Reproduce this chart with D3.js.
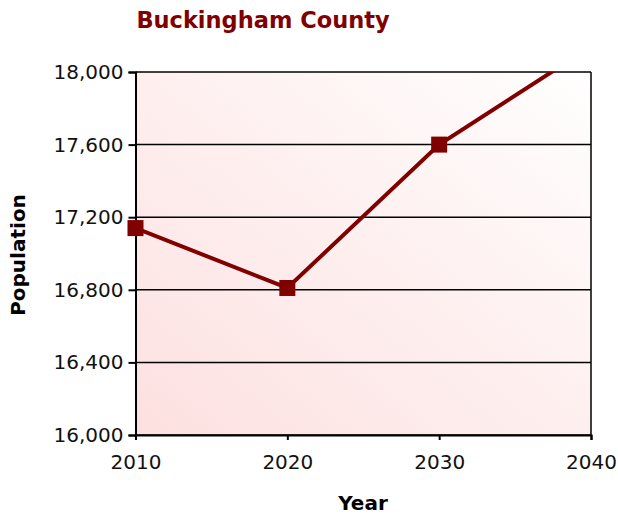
<!DOCTYPE html>
<html>
<head>
<meta charset="utf-8">
<script src="https://cdn.jsdelivr.net/npm/d3@7"></script>
<style>
  body { margin: 0; background: #fff; }
  svg { display: block; font-family: "DejaVu Sans", Verdana, sans-serif; }
</style>
</head>
<body>
<svg id="chart" width="618" height="517"></svg>
<script>
// data
const years = [2010, 2020, 2030, 2040];
const population = [17140, 16810, 17600, 18140];
const yTicks = [16000, 16400, 16800, 17200, 17600, 18000];
const xTicks = [2010, 2020, 2030, 2040];

const svg = d3.select('#chart');
const plotL = 135.5, plotR = 591, plotT = 72, plotB = 435;

const x = d3.scaleLinear().domain([2010, 2040]).range([plotL, plotR]);
const y = d3.scaleLinear().domain([16000, 18000]).range([plotB, plotT]);

// background gradient, pink bottom-left to white top-right
const defs = svg.append('defs');
const grad = defs.append('linearGradient')
    .attr('id', 'bg')
    .attr('x1', '0%').attr('y1', '100%')
    .attr('x2', '100%').attr('y2', '0%');
grad.append('stop').attr('offset', '0%').attr('stop-color', '#fde0e0');
grad.append('stop').attr('offset', '100%').attr('stop-color', '#fffefe');

defs.append('clipPath').attr('id', 'plotclip')
    .append('rect')
    .attr('x', plotL).attr('y', plotT)
    .attr('width', plotR - plotL).attr('height', plotB - plotT);

svg.append('rect')
    .attr('x', plotL).attr('y', plotT)
    .attr('width', plotR - plotL).attr('height', plotB - plotT)
    .attr('fill', 'url(#bg)');

// horizontal gridlines
svg.append('g')
    .selectAll('line')
    .data(yTicks)
    .join('line')
    .attr('x1', plotL).attr('x2', plotR)
    .attr('y1', d => y(d)).attr('y2', d => y(d))
    .attr('stroke', '#000')
    .attr('stroke-width', 1.5);

// right border
svg.append('line')
    .attr('x1', plotR).attr('x2', plotR)
    .attr('y1', plotT).attr('y2', plotB)
    .attr('stroke', '#000').attr('stroke-width', 1.5);

// y axis
const yAxis = svg.append('g')
    .attr('transform', `translate(${plotL},0)`)
    .call(d3.axisLeft(y).tickValues(yTicks).tickSize(7).tickPadding(5)
        .tickFormat(d3.format(',')));
yAxis.select('.domain').attr('stroke', '#000').attr('stroke-width', 2);
yAxis.selectAll('.tick line').attr('stroke', '#000').attr('stroke-width', 2);
yAxis.selectAll('text').attr('font-size', 20).attr('fill', '#111')
    .attr('font-family', '"DejaVu Sans", Verdana, sans-serif');

// x axis
const xAxis = svg.append('g')
    .attr('transform', `translate(0,${plotB})`)
    .call(d3.axisBottom(x).tickValues(xTicks).tickSize(5).tickPadding(15)
        .tickFormat(d3.format('d')));
xAxis.select('.domain').attr('stroke', '#000').attr('stroke-width', 2);
xAxis.selectAll('.tick line').attr('stroke', '#000').attr('stroke-width', 2);
xAxis.selectAll('text').attr('font-size', 20).attr('fill', '#111')
    .attr('font-family', '"DejaVu Sans", Verdana, sans-serif');

// series line and markers
const pts = years.map((yr, i) => ({ yr: yr, v: population[i] }));
const plot = svg.append('g').attr('clip-path', 'url(#plotclip)');

plot.append('path')
    .datum(pts)
    .attr('fill', 'none')
    .attr('stroke', '#800000')
    .attr('stroke-width', 4)
    .attr('d', d3.line().x(d => x(d.yr)).y(d => y(d.v)));

svg.append('g')
    .selectAll('rect')
    .data(pts.filter(d => d.v <= 18000))
    .join('rect')
    .attr('x', d => x(d.yr) - 8)
    .attr('y', d => y(d.v) - 8)
    .attr('width', 16).attr('height', 16)
    .attr('fill', '#800000');

// titles
svg.append('text')
    .attr('x', 263).attr('y', 28)
    .attr('text-anchor', 'middle')
    .attr('font-size', 22.5).attr('font-weight', 'bold')
    .attr('fill', '#800000')
    .text('Buckingham County');

svg.append('text')
    .attr('x', 363).attr('y', 510)
    .attr('text-anchor', 'middle')
    .attr('font-size', 20).attr('font-weight', 'bold')
    .attr('fill', '#000')
    .text('Year');

svg.append('text')
    .attr('transform', 'translate(25,255) rotate(-90)')
    .attr('text-anchor', 'middle')
    .attr('font-size', 20).attr('font-weight', 'bold')
    .attr('fill', '#000')
    .text('Population');
</script>
</body>
</html>
